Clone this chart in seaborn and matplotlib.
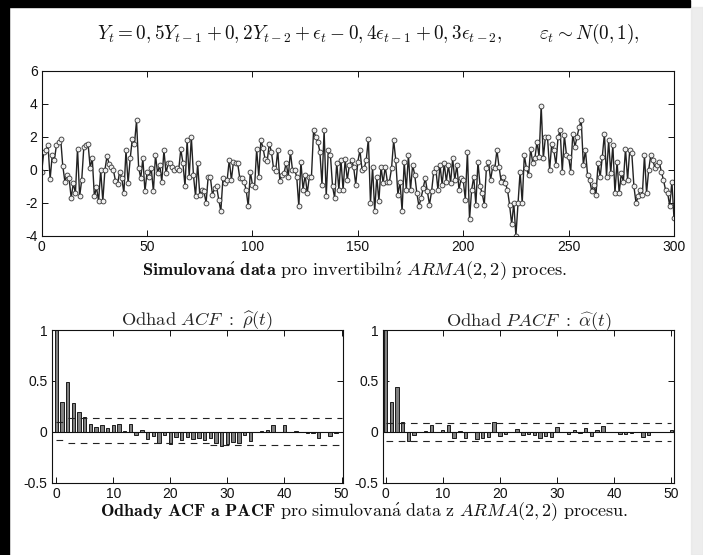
import numpy as np
import pandas as pd
import seaborn as sns
import matplotlib.pyplot as plt
from matplotlib.patches import Rectangle
from matplotlib.ticker import FormatStrFormatter

# simulated ARMA(2,2) series, t = 0..300
y_values = [
    -0.1, 1.1, 1.2, 1.5, -0.55, 0.9, 0.6, 1.5, 1.7, 1.9,
    0.25, -0.7, -0.3, -0.5, -1.7, -0.8, -1.4, 1.3, -1.6, -0.6,
    1.4, 1.5, 1.6, 0.15, 0.7, -1.6, -1.05, -1.9, 0.0, -1.9,
    0.0, 0.85, 0.35, 0.2, 0.0, -0.65, -0.85, -0.1, -0.5, -1.4,
    1.2, -0.8, 0.7, 1.9, 1.55, 3.0, 0.15, -0.5, 0.7,
    -1.3, -0.1, -0.4, 0.1, -1.3, 0.9, -0.2, 0.3, -0.7, 1.2,
    -0.2, 0.4, 0.4, 0.2, 0.0, 0.1, 0.0, 1.25, 0.45, -1.0,
    1.8, -0.4, 2.0, -0.3, -1.6, 0.4, -1.5, -1.2, -1.3, -2.0,
    -0.4, -0.4, -1.5, -1.1, -1.0, -1.8, -2.5, -0.5, -0.8, -0.6,
    0.6, -0.6, 0.5, 0.4, 0.4, -0.5, -0.5, -0.7, -1.2, -2.2,
    -0.1, -0.9, -1.05, 1.25, -0.4, 1.8, 1.35, 0.65, 0.55, 1.6,
    1.1, 0.1, -0.05, 1.2, -0.65, -0.3, -0.2, 0.45, -0.4, 1.1,
    0.0, 0.0, -0.4, -2.2, 0.5, -1.2, -0.3, -1.4, -0.4, -0.4,
    2.4, 2.0, 1.7, 1.1, -0.9, 2.4, -1.6, 1.2, 0.9, -1.0,
    -1.7, 0.45, -1.2, 0.6, -1.2, 0.65, -0.6, 0.3, 0.6,
    0.2, -0.9, 0.5, 1.2, 0.0, 0.1, 0.6, 1.9, -2.0, 0.2,
    -2.5, -0.4, -1.9, 0.2, -0.8, 0.2, -0.7, -0.7, 0.1, 1.8,
    0.6, -1.5, -0.7, -2.5, 0.5, -1.2, 0.9, -1.2, 0.3, -0.3,
    -1.4, -2.2, -1.7, -1.1, -0.5, -1.3, -2.1, -1.3, -0.1, 0.1,
    -1.2, 0.3, -0.9, 0.4, -0.7, 0.3, -0.8, 0.7, -0.6, 0.3,
    -1.2, -0.5, -0.6, -1.8, 1.1, -3.0, -1.2, -0.4, -2.1, 0.5,
    -1.0, -1.4, -2.1, 0.1, 0.5, -0.6, 0.2, 0.1, 1.2, 0.2,
    -0.7, -0.4, -0.8, -1.2, -2.1, -3.3, -2.0, -4.0, -2.0, -0.1,
    -2.0, 0.9, 0.1, -0.3, 1.3, 0.4, 0.7, 1.7, 0.8, 3.9,
    0.7, 2.0, 2.0, 0.0, 1.6, 1.2, 0.3, 2.0, 2.4, -0.1,
    2.1, 0.9, 0.8, -0.1, 2.2, 1.4, 2.0, 2.6, 3.0, 0.3,
    1.2, -0.3, -0.6, -1.3, -0.9, -1.5, 0.4, -0.4, 0.8, 2.2,
    -0.4, 1.8, -0.2, 1.5, -1.4, 0.5, -1.4, -0.2, -0.7, 1.3,
    -0.6, 1.2, 1.0, -1.0, -2.0, -1.6, -1.2, -1.5, 0.9, -1.4,
    0.0, 0.9, 0.6, 0.1, 0.3, 0.5, -0.1, -0.6, -1.2, -1.4,
    -2.2, -0.7, -2.9,
]
t_values = np.arange(len(y_values))

# estimated ACF, lags 0..50
acf_values = [
    1.0, 0.29, 0.49, 0.28, 0.19, 0.15, 0.08, 0.05, 0.07, 0.04,
    0.07, 0.08, 0.01, 0.08, -0.03, 0.02, -0.07, -0.04, -0.11, -0.03,
    -0.12, -0.05, -0.08, -0.05, -0.07, -0.06, -0.08, -0.06, -0.11, -0.14,
    -0.12, -0.10, -0.11, -0.03, -0.09, 0.0, 0.01, 0.02, 0.07, 0.0,
    0.07, 0.0, 0.01, 0.0, -0.01, -0.01, -0.06, 0.0, -0.04, -0.01,
    0.0,
]
# estimated PACF, lags 0..50
pacf_values = [
    1.0, 0.29, 0.44, 0.10, -0.09, -0.03, 0.0, 0.01, 0.07, 0.0,
    0.02, 0.07, -0.06, 0.01, -0.06, 0.0, -0.07, -0.06, -0.05, 0.10,
    -0.04, -0.02, 0.0, 0.03, -0.03, -0.02, -0.03, -0.06, -0.04, -0.05,
    0.05, 0.0, -0.02, 0.02, -0.01, 0.04, -0.04, 0.02, 0.06, 0.0,
    0.0, -0.02, -0.02, -0.01, 0.0, -0.05, -0.03, 0.0, 0.0, 0.0,
    0.02,
]
acf_lags = np.arange(len(acf_values))
pacf_lags = np.arange(len(pacf_values))

# confidence bands (from, to, level)
acf_upper_band = [(0, 2, 0.10), (2, 50, 0.137)]
acf_lower_band = [(0, 2, -0.08), (2, 27, -0.115), (27, 50, -0.13)]
pacf_band = [(0, 50, 0.09), (0, 50, -0.09)]

sns.set_theme(style='ticks')
plt.rcParams['font.family'] = ['Liberation Sans', 'DejaVu Sans']
plt.rcParams['mathtext.fontset'] = 'cm'
plt.rcParams['axes.unicode_minus'] = False

fig = plt.figure(figsize=(7.03, 5.55), dpi=100, facecolor='white')


def frame(ax):
    ax.tick_params(direction='in', top=True, right=True, length=4, width=0.7,
                   labelsize=10, colors='#111111', pad=3)
    for s in ax.spines.values():
        s.set_linewidth(0.8)
        s.set_color('#111111')


# time series
ax1 = fig.add_axes([0.0593, 0.5748, 0.8994, 0.2973])
sns.lineplot(x=t_values, y=y_values, ax=ax1, color='#222222', linewidth=1.0,
             marker='o', markersize=3.5, markerfacecolor='#f0f0f0',
             markeredgecolor='#333333', markeredgewidth=0.6)
ax1.set_xlim(0, 300)
ax1.set_ylim(-4, 6)
ax1.set_xticks(range(0, 301, 50))
ax1.set_yticks(range(-4, 7, 2))
ax1.set_xlabel('')
ax1.set_ylabel('')
frame(ax1)


def corr_plot(ax, lags, vals, bands, xlim, title):
    sns.barplot(x=lags, y=vals, native_scale=True, width=0.6, color='#808080',
                edgecolor='#1a1a1a', linewidth=0.7, saturation=1, ax=ax)
    ax.axhline(0, color='#111111', linewidth=0.8)
    for x0, x1, lev in bands:
        ax.hlines(lev, x0, x1, colors='#222222', linewidth=0.8,
                  linestyles=(0, (6, 5)))
    ax.set_xlim(*xlim)
    ax.set_ylim(-0.5, 1)
    ax.set_xticks(range(0, 51, 10))
    ax.set_yticks([-0.5, 0, 0.5, 1])
    ax.yaxis.set_major_formatter(FormatStrFormatter('%g'))
    ax.set_xlabel('')
    ax.set_ylabel('')
    ax.set_title(title, fontsize=13.3, pad=3)
    frame(ax)


ax2 = fig.add_axes([0.0735, 0.1303, 0.4139, 0.2751])
corr_plot(ax2, acf_lags, acf_values, acf_upper_band + acf_lower_band, (-0.8, 50.2),
          r'$\mathrm{Odhad}\ ACF\ :\ \widehat{\rho}(t)$')

ax3 = fig.add_axes([0.5444, 0.1303, 0.4148, 0.2751])
corr_plot(ax3, pacf_lags, pacf_values, pacf_band, (-0.5, 50.5),
          r'$\mathrm{Odhad}\ PACF\ :\ \widehat{\alpha}(t)$')

# texts
fig.text(0.524, 0.938,
         r'$Y_t = 0,5Y_{t-1} + 0,2Y_{t-2} + \epsilon_t - 0,4\epsilon_{t-1} + 0,3\epsilon_{t-2}, \qquad \varepsilon_t \sim N(0,1),$',
         ha='center', va='center', fontsize=13.8, color='#111111')
fig.text(0.505, 0.513,
         r'$\mathbf{Simulovan\acute{a}\ data}\ \mathrm{pro\ invertibiln\acute{\imath}}\ ARMA(2,2)\ \mathrm{proces.}$',
         ha='center', va='center', fontsize=13.2, color='#111111')
fig.text(0.517, 0.079,
         r'$\mathbf{Odhady\ ACF\ a\ PACF}\ \mathrm{pro\ simulovan\acute{a}\ data\ z}\ ARMA(2,2)\ \mathrm{procesu.}$',
         ha='center', va='center', fontsize=13, color='#111111')

# scan border and page shadow
fig.patches.append(Rectangle((0, 0), 9 / 703, 1, transform=fig.transFigure,
                             color='black', zorder=10))
fig.patches.append(Rectangle((0, 1 - 7 / 555), 690 / 703, 7 / 555,
                             transform=fig.transFigure, color='black', zorder=10))
fig.patches.append(Rectangle((1 - 12 / 703, 0), 12 / 703, 1 - 7 / 555,
                             transform=fig.transFigure, color='#e2e2e2',
                             alpha=0.6, zorder=0))

fig.savefig('out.png', dpi=100)
